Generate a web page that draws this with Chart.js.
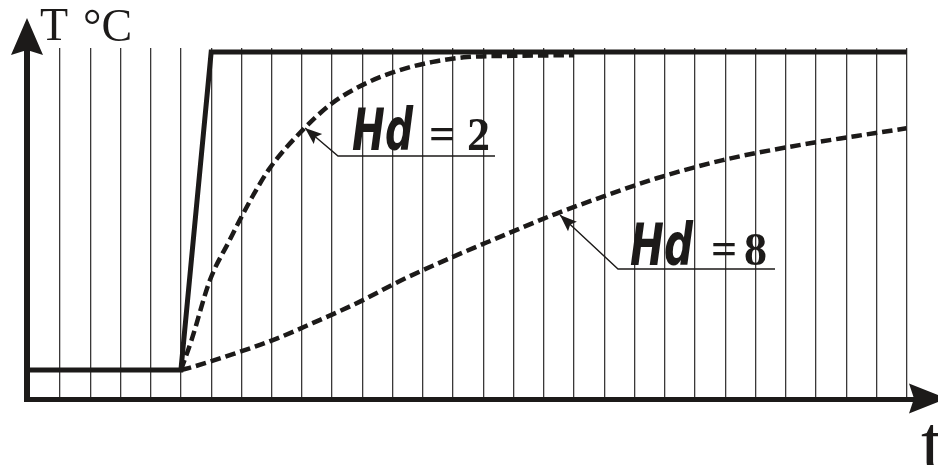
<!DOCTYPE html>
<html>
<head>
<meta charset="utf-8">
<script src="https://cdn.jsdelivr.net/npm/chart.js@4.4.1/dist/chart.umd.min.js"></script>
<style>
    html, body { margin: 0; padding: 0; background: #ffffff; }
    #wrap { width: 938px; height: 465px; position: relative; }
</style>
</head>
<body>
<div id="wrap"><canvas id="tempChart"></canvas></div>
<script>
// time grid (one vertical line per time step)
const gridTimes = [1, 2, 3, 4, 5, 6, 7, 8, 9, 10, 11, 12, 13, 14, 15, 16, 17, 18, 19, 20, 21, 22, 23, 24, 25, 26, 27, 28, 29]

// setpoint step (% of the jump)
const setpointTime = [0, 5, 6, 29]
const setpointTemp = [0, 0, 100, 100]

// response with Hd = 2
const hd2Time = [5, 5.35, 5.96, 6.62, 6.95, 7.38, 7.94, 9.03, 10.0, 11.15, 12.24, 13.33, 14.46, 16, 18]
const hd2Temp = [0, 9.4, 28.3, 41, 47.2, 54.8, 63.5, 75.5, 83.9, 90.3, 94.3, 96.9, 98.4, 98.8, 99]

// response with Hd = 8
const hd8Time = [5, 5.4, 6.72, 8.04, 9.37, 10.92, 12.24, 13.33, 14.46, 15.21, 17.42, 18.95, 20.73, 22.92, 25.13, 27.34, 28.99]
const hd8Temp = [0, 1.0, 5.0, 9.4, 14.8, 21.5, 28.0, 32.8, 37.5, 40.5, 49.2, 54.5, 60.3, 66.0, 70.2, 73.6, 76.0]

const ink = '#1c1a19'

window.onload = drawChart;

function toPoints(xs, ys) {
    return xs.map((x, i) => ({ x: x, y: ys[i] }))
}

function arrowHead(ctx, tipX, tipY, fromX, fromY, len, half, notch) {
    const a = Math.atan2(tipY - fromY, tipX - fromX)
    const cos = Math.cos(a), sin = Math.sin(a)
    const bx = tipX - len * cos, by = tipY - len * sin
    ctx.beginPath()
    ctx.moveTo(tipX, tipY)
    ctx.lineTo(bx - half * sin, by + half * cos)
    ctx.lineTo(tipX - (len - notch) * cos, tipY - (len - notch) * sin)
    ctx.lineTo(bx + half * sin, by - half * cos)
    ctx.closePath()
    ctx.fill()
}

function hdLabel(ctx, tip, elbow, lineEnd, hdLeft, hdWidth, baseline, eqLeft, digitLeft, digit) {
    ctx.strokeStyle = ink
    ctx.fillStyle = ink
    ctx.lineWidth = 1.4
    ctx.beginPath()
    ctx.moveTo(tip[0], tip[1])
    ctx.lineTo(elbow[0], elbow[1])
    ctx.lineTo(lineEnd, elbow[1])
    ctx.stroke()
    arrowHead(ctx, tip[0], tip[1], elbow[0], elbow[1], 17, 6.5, 3)

    ctx.save()
    ctx.font = 'bold italic 58px "DejaVu Sans"'
    ctx.textBaseline = 'alphabetic'
    const w = ctx.measureText('Hd').width
    ctx.translate(hdLeft, baseline)
    ctx.scale(hdWidth / w, 1)
    ctx.fillText('Hd', 0, 0)
    ctx.restore()

    ctx.font = 'bold 46px "Liberation Serif"'
    ctx.textBaseline = 'alphabetic'
    ctx.fillText('=', eqLeft - 1, baseline - 1)
    ctx.fillText(digit, digitLeft - 1, baseline)
}

const decorPlugin = {
    id: 'decor',
    afterDraw(chart) {
        const ctx = chart.ctx
        const area = chart.chartArea
        ctx.save()
        ctx.fillStyle = ink
        ctx.strokeStyle = ink

        // axes
        ctx.lineWidth = 6
        ctx.beginPath()
        ctx.moveTo(area.left, area.bottom + 2.5)
        ctx.lineTo(area.left, 50)
        ctx.stroke()
        ctx.lineWidth = 5
        ctx.beginPath()
        ctx.moveTo(area.left - 3, area.bottom)
        ctx.lineTo(915, area.bottom)
        ctx.stroke()
        arrowHead(ctx, area.left, 18, area.left, 60, 37, 16, 5)
        arrowHead(ctx, 947, area.bottom - 1, 900, area.bottom - 1, 38, 15, 5)

        // axis titles
        ctx.font = '46px "Liberation Serif"'
        ctx.textBaseline = 'alphabetic'
        ctx.fillText('T', 40, 40)
        ctx.fillText('°C', 83, 41)
        ctx.font = '80px "Liberation Serif"'
        ctx.fillText('t', 921, 470)

        // curve labels
        hdLabel(ctx, [305, 128], [338, 156], 495, 352, 61, 150, 430, 468, '2')
        hdLabel(ctx, [560, 215], [618, 269], 775, 630, 63, 265, 712, 745, '8')
        ctx.restore()
    }
}

function drawChart() {
    const datasets = [
        {
            label: 'Setpoint',
            data: toPoints(setpointTime, setpointTemp),
            borderColor: ink,
            borderWidth: 5,
            pointRadius: 0,
            tension: 0,
            borderJoinStyle: 'miter',
            fill: false
        },
        {
            label: 'Hd = 2',
            data: toPoints(hd2Time, hd2Temp),
            borderColor: ink,
            borderWidth: 4.5,
            borderDash: [10.5, 5],
            borderCapStyle: 'butt',
            pointRadius: 0,
            cubicInterpolationMode: 'monotone',
            fill: false
        },
        {
            label: 'Hd = 8',
            data: toPoints(hd8Time, hd8Temp),
            borderColor: ink,
            borderWidth: 4.5,
            borderDash: [10.5, 5],
            borderCapStyle: 'butt',
            pointRadius: 0,
            cubicInterpolationMode: 'monotone',
            fill: false
        }
    ]

    const chartOptions = {
        responsive: true,
        maintainAspectRatio: false,
        animation: false,
        layout: {
            padding: { left: 27, right: 1, top: 48, bottom: 65.5 }
        },
        plugins: {
            legend: { display: false },
            tooltip: { enabled: false }
        },
        scales: {
            x: {
                type: 'linear',
                min: -0.09,
                max: 30,
                afterBuildTicks: (scale) => {
                    scale.ticks = gridTimes.map(v => ({ value: v }))
                },
                afterFit: (scale) => {
                    scale.height = 0
                },
                ticks: { display: false },
                border: { display: false },
                grid: {
                    color: '#3a3838',
                    lineWidth: 1.3,
                    drawTicks: false
                }
            },
            y: {
                display: false,
                min: -9.28,
                max: 101.26
            }
        }
    }

    const ctx = document.getElementById('tempChart').getContext('2d');
    new Chart(ctx, {
        type: 'line',
        data: { datasets: datasets },
        options: chartOptions,
        plugins: [decorPlugin]
    });
}
</script>
</body>
</html>
